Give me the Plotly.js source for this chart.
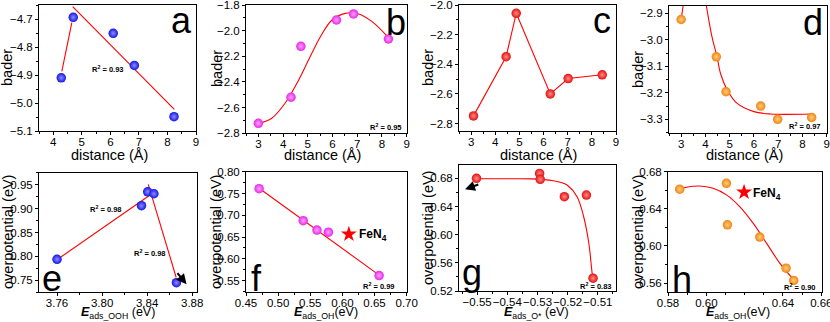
<!DOCTYPE html>
<html><head><meta charset="utf-8">
<script src="https://cdn.plot.ly/plotly-3.0.1.min.js"></script>
<style>html,body{margin:0;padding:0;background:#fff}#chart{width:830px;height:322px}</style>
</head><body><div id="chart"></div><script>
// ---------- DATA ----------
// (a) bader vs distance
const aX = [4.28, 4.70, 6.10, 6.84, 8.23];
const aY = [-4.910, -4.694, -4.751, -4.866, -5.049];
const aSegX = [4.30, 4.65];
const aSegY = [-4.887, -4.713];
const aFitX = [4.68, 8.24];
const aFitY = [-4.656, -5.023];
// (b)
const bX = [3.00, 4.32, 4.72, 6.16, 6.85, 8.26];
const bY = [-2.722, -2.519, -2.122, -1.917, -1.870, -2.065];
const bFitX = [3.00, 3.54, 4.08, 4.56, 5.03, 5.51, 5.98, 6.52, 7.06, 7.60, 8.25];
const bFitY = [-2.725, -2.683, -2.566, -2.410, -2.229, -2.047, -1.917, -1.865, -1.870, -1.930, -2.052];
// (c)
const cX = [3.10, 4.45, 4.87, 6.28, 7.02, 8.43];
const cY = [-2.748, -2.349, -2.056, -2.600, -2.496, -2.471];
// (d)
const dX = [3.00, 4.45, 4.85, 6.28, 6.98, 8.38];
const dY = [-2.923, -3.064, -3.196, -3.250, -3.300, -3.293];
const dFit1X = [3.00, 3.10];
const dFit1Y = [-2.923, -2.86];
const dFit2X = [4.02, 4.27, 4.48, 4.62, 4.90, 5.31, 6.00, 6.69, 8.36];
const dFit2Y = [-2.86, -2.988, -3.064, -3.126, -3.189, -3.240, -3.271, -3.280, -3.280];
// (e) overpotential vs E_ads_OOH
const eX = [3.760, 3.835, 3.8405, 3.846, 3.866];
const eY = [0.794, 0.906, 0.935, 0.931, 0.745];
const eFit1X = [3.7605, 3.8436];
const eFit1Y = [0.794, 0.930];
const eFit2X = [3.841, 3.8658];
const eFit2Y = [0.9506, 0.756];
// (f) overpotential vs E_ads_OH
const fX = [0.4704, 0.539, 0.5604, 0.5782, 0.6571];
const fY = [0.761, 0.6876, 0.666, 0.661, 0.5615];
const fFitX = [0.4704, 0.6571];
const fFitY = [0.762, 0.5625];
const fStarX = [0.610];
const fStarY = [0.6564];
// (g) overpotential vs E_ads_O
const gX = [-0.5502, -0.5293, -0.5291, -0.5211, -0.5138, -0.5116];
const gY = [0.680, 0.6871, 0.6786, 0.654, 0.6563, 0.5382];
const gFitX = [-0.5502, -0.540, -0.532, -0.5247, -0.5219, -0.5202, -0.5169, -0.5147, -0.5130, -0.5119, -0.5116];
const gFitY = [0.6795, 0.6795, 0.6793, 0.6766, 0.6738, 0.6705, 0.654, 0.6255, 0.5878, 0.5453, 0.5382];
// (h) overpotential vs E_ads_OH
const hX = [0.5861, 0.6105, 0.611, 0.6279, 0.6416, 0.6456];
const hY = [0.6611, 0.6675, 0.6227, 0.6095, 0.576, 0.5628];
const hFitX = [0.5861, 0.5896, 0.5965, 0.6035, 0.6105, 0.6174, 0.6244, 0.6314, 0.6383, 0.6456];
const hFitY = [0.661, 0.6632, 0.6646, 0.6621, 0.655, 0.6424, 0.6245, 0.603, 0.5815, 0.5636];
const hStarX = [0.6197];
const hStarY = [0.6579];
const hTickVals = [0.58, 0.60, 0.64, 0.66];
const hTickText = ['0.58', '0.60', '0.64', '0.66'];

// ---------- LAYOUT HELPERS ----------
const W = 830, H = 322;
const FONT = 'Arial, "Liberation Sans", sans-serif';
const px = x => x / W;
const py = y => 1 - y / H;
const BLUE = '#1414e6', MAG = '#e628e6', RED = '#e60e0e', ORG = '#f08410';
const LIGHT = {[BLUE]: '#8c8cff', [MAG]: '#ffa0ff', [RED]: '#ff8c8c', [ORG]: '#ffcc80'};

function axis(box, horiz, range, opts) {
  const dom = horiz ? [px(box[0]), px(box[1])] : [py(box[3]), py(box[2])];
  return Object.assign({
    domain: dom, range: range, showline: true, mirror: true, linecolor: '#000', linewidth: 1,
    ticks: 'outside', ticklen: 3, tickwidth: 1, tickcolor: '#000', showgrid: false, zeroline: false,
    tickangle: 0, ticklabelstandoff: horiz ? -3 : 0, ticklabeloverflow: 'allow',
    tickfont: {family: FONT, size: 11.5, color: '#000'}, fixedrange: true
  }, opts);
}
function minor(d) { return {ticks: 'outside', ticklen: 2, dtick: d, tick0: 0, tickcolor: '#000', showgrid: false}; }
function balls(x, y, color, i) {
  return {x: x, y: y, xaxis: 'x' + i, yaxis: 'y' + i, type: 'scatter', mode: 'markers',
    marker: {size: 9.5, color: color, gradient: {type: 'radial', color: LIGHT[color]}, line: {width: 0}},
    hoverinfo: 'skip', cliponaxis: false};
}
function line(x, y, i, shape) {
  return {x: x, y: y, xaxis: 'x' + i, yaxis: 'y' + i, type: 'scatter', mode: 'lines',
    line: {color: '#ff0000', width: 1.1, shape: shape || 'linear', smoothing: 1}, hoverinfo: 'skip'};
}
function star(x, y, i) {
  return {x: x, y: y, xaxis: 'x' + i, yaxis: 'y' + i, type: 'scatter', mode: 'markers',
   marker: {symbol: 'star', size: 12, color: '#ff0000', line: {width: 0}}, hoverinfo: 'skip'};
}

const boxes = {
  1: [39, 196, 5, 131],
  2: [246, 406.7, 5, 133.3],
  3: [459, 616, 5, 131],
  4: [669, 826.7, 6, 133.3],
  5: [39, 196.7, 172.7, 292.3],
  6: [246, 406.7, 171.7, 292.3],
  7: [459, 616, 165, 291],
  8: [668, 821.7, 171.7, 292.3]
};

const traces = [
  line(aSegX, aSegY, 1), line(aFitX, aFitY, 1), balls(aX, aY, BLUE, 1),
  line(bFitX, bFitY, 2, 'spline'), balls(bX, bY, MAG, 2),
  line(cX, cY, 3), balls(cX, cY, RED, 3),
  line(dFit1X, dFit1Y, 4), line(dFit2X, dFit2Y, 4, 'spline'), balls(dX, dY, ORG, 4),
  line(eFit1X, eFit1Y, 5), line(eFit2X, eFit2Y, 5), balls(eX, eY, BLUE, 5),
  line(fFitX, fFitY, 6), balls(fX, fY, MAG, 6), star(fStarX, fStarY, 6),
  line(gFitX, gFitY, 7, 'spline'), balls(gX, gY, RED, 7),
  line(hFitX, hFitY, 8, 'spline'), balls(hX, hY, ORG, 8), star(hStarX, hStarY, 8)
];

const layout = {
  width: W, height: H, margin: {l: 0, r: 0, t: 0, b: 0}, showlegend: false,
  paper_bgcolor: '#fff', plot_bgcolor: '#fff', font: {family: FONT, color: '#000'},
  xaxis:  axis(boxes[1], true,  [3.5, 9],   {anchor: 'y',  dtick: 1, tick0: 0, minor: minor(0.5)}),
  yaxis:  axis(boxes[1], false, [-5.1, -4.65], {anchor: 'x', dtick: 0.1, tick0: 0, tickformat: '.1f', minor: minor(0.05)}),
  xaxis2: axis(boxes[2], true,  [2.5, 9],   {anchor: 'y2', dtick: 1, tick0: 0, minor: minor(0.5)}),
  yaxis2: axis(boxes[2], false, [-2.8, -1.8], {anchor: 'x2', dtick: 0.2, tick0: 0, tickformat: '.1f', minor: minor(0.1)}),
  xaxis3: axis(boxes[3], true,  [2.5, 9],   {anchor: 'y3', dtick: 1, tick0: 0, minor: minor(0.5)}),
  yaxis3: axis(boxes[3], false, [-2.85, -2.0], {anchor: 'x3', dtick: 0.2, tick0: 0, tickformat: '.1f', minor: minor(0.1)}),
  xaxis4: axis(boxes[4], true,  [2.5, 9],   {anchor: 'y4', dtick: 1, tick0: 0, minor: minor(0.5)}),
  yaxis4: axis(boxes[4], false, [-3.353, -2.872], {anchor: 'x4', dtick: 0.1, tick0: 0, tickformat: '.1f', minor: minor(0.05)}),
  xaxis5: axis(boxes[5], true,  [3.744, 3.884], {anchor: 'y5', dtick: 0.04, tick0: 0, tickformat: '.2f', minor: minor(0.02)}),
  yaxis5: axis(boxes[5], false, [0.725, 0.975], {anchor: 'x5', dtick: 0.05, tick0: 0, tickformat: '.2f', minor: minor(0.025)}),
  xaxis6: axis(boxes[6], true,  [0.45, 0.70], {anchor: 'y6', dtick: 0.05, tick0: 0, tickformat: '.2f', minor: minor(0.025)}),
  yaxis6: axis(boxes[6], false, [0.523, 0.80], {anchor: 'x6', dtick: 0.05, tick0: 0, tickformat: '.2f', minor: minor(0.025)}),
  xaxis7: axis(boxes[7], true,  [-0.556, -0.504], {anchor: 'y7', dtick: 0.01, tick0: 0, tickformat: '.2f', minor: minor(0.005)}),
  yaxis7: axis(boxes[7], false, [0.52, 0.699], {anchor: 'x7', dtick: 0.04, tick0: 0, tickformat: '.2f', minor: minor(0.02)}),
  xaxis8: axis(boxes[8], true,  [0.58, 0.6602], {anchor: 'y8', tickmode: 'array', tickvals: hTickVals, ticktext: hTickText, minor: minor(0.01)}),
  yaxis8: axis(boxes[8], false, [0.55, 0.68], {anchor: 'x8', dtick: 0.04, tick0: 0, tickformat: '.2f', minor: minor(0.02)}),
  annotations: []
};

const A = layout.annotations;
function txt(x, y, text, size, opts) {
  A.push(Object.assign({xref: 'paper', yref: 'paper', x: px(x), y: py(y), text: text, showarrow: false,
    font: {family: FONT, size: size, color: '#000'}, xanchor: 'center', yanchor: 'middle'}, opts || {}));
}
// y titles
[[7, 68, 'bader'], [217, 69, 'bader'], [428, 68, 'bader'], [638, 70, 'bader'],
 [8, 232, 'overpotential (eV)'], [216, 232, 'overpotential (eV)'], [428, 228, 'overpotential (eV)'], [638, 232, 'overpotential (eV)']]
  .forEach(t => txt(t[0], t[1], t[2], 14.5, {textangle: -90}));
// x titles
[[109, 155], [322, 155], [538, 155], [744, 155]].forEach(t => txt(t[0], t[1], 'distance (Å)', 14.5));
txt(118, 313, '<b><i>E</i></b><sub>ads_OOH</sub> (eV)', 12.5);
txt(326, 313, '<b><i>E</i></b><sub>ads_OH</sub>(eV)', 12.5);
txt(536, 313, '<b><i>E</i></b><sub>ads_O*</sub> (eV)', 12.5);
txt(738, 313, '<b><i>E</i></b><sub>ads_OH</sub>(eV)', 12.5);
// panel letters
[[181, 20, 'a'], [396, 22, 'b'], [602, 20, 'c'], [813, 23, 'd'],
 [52, 278, 'e'], [256, 278, 'f'], [472, 272, 'g'], [682, 279, 'h']]
  .forEach(t => txt(t[0], t[1], t[2], 36));
// R^2 labels
const R = (x, y, t, anchor) => txt(x, y, '<b>R<sup>2</sup> = ' + t + '</b>', 7.5, {xanchor: anchor || 'center'});
R(108, 69, '0.93');
R(404, 127, '0.95', 'right');
R(823, 126, '0.97', 'right');
R(106, 209, '0.98');
R(150, 253, '0.98');
R(397, 286, '0.99', 'right');
R(614, 286, '0.83', 'right');
R(818, 287, '0.90', 'right');
// FeN4 labels
txt(357, 235, '<b>FeN<sub>4</sub></b>', 12, {xanchor: 'left'});
txt(751, 194, '<b>FeN<sub>4</sub></b>', 12, {xanchor: 'left'});
// arrows (e) and (g)
A.push({xref: 'x5', yref: 'y5', axref: 'x5', ayref: 'y5', x: 3.875, y: 0.742, ax: 3.8658, ay: 0.768,
  showarrow: true, arrowhead: 2, arrowsize: 1, arrowwidth: 2, arrowcolor: '#000', text: ''});
A.push({xref: 'x7', yref: 'y7', axref: 'x7', ayref: 'y7', x: -0.554, y: 0.6644, ax: -0.5491, ay: 0.672,
  showarrow: true, arrowhead: 2, arrowsize: 1, arrowwidth: 2, arrowcolor: '#000', text: ''});

Plotly.newPlot('chart', traces, layout, {staticPlot: true, displayModeBar: false});
</script></body></html>
